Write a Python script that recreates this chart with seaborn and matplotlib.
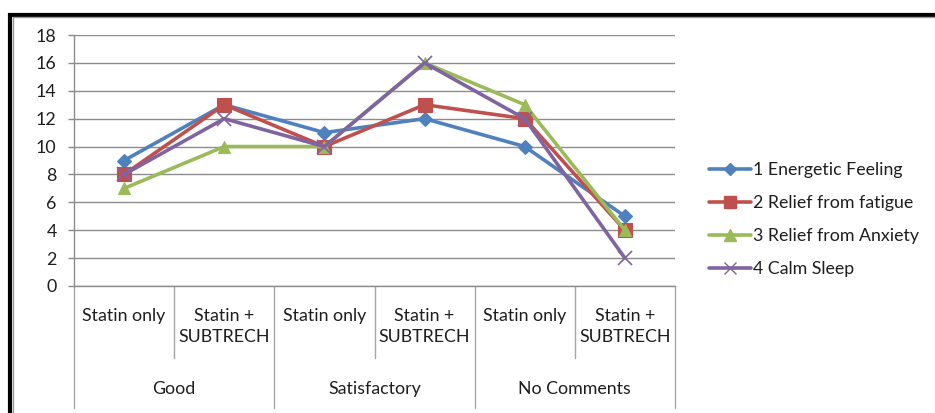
import matplotlib
matplotlib.use("Agg")
import matplotlib.pyplot as plt
from matplotlib.patches import Rectangle
from matplotlib.lines import Line2D
import matplotlib.transforms as mtransforms
import seaborn as sns
import pandas as pd

# --- data -------------------------------------------------------------
groups = ["Good", "Satisfactory", "No Comments"]
treatments = ["Statin only", "Statin +\nSUBTRECH"]
series_names = ["1 Energetic Feeling", "2 Relief from fatigue",
                "3 Relief from Anxiety", "4 Calm Sleep"]
energetic = [9, 13, 11, 12, 10, 5]
fatigue = [8, 13, 10, 13, 12, 4]
anxiety = [7, 10, 10, 16, 13, 4]
calm_sleep = [8, 12, 10, 16, 12, 2]
y_ticks = [0, 2, 4, 6, 8, 10, 12, 14, 16, 18]

colors = ["#4F81BD", "#C0504D", "#9BBB59", "#8064A2"]
markers = ["D", "s", "^", "x"]
msizes = [7, 10, 9, 10]

sns.set_theme(style="white")
plt.rcParams["font.family"] = ["Lato", "DejaVu Sans"]

W, H = 935, 413
fig = plt.figure(figsize=(W / 100, H / 100), dpi=100)

def fx(px):
    return px / W

def fy(py):
    return 1 - py / H

ax = fig.add_axes([fx(74), fy(286), fx(675) - fx(74), fy(35) - fy(286)])

n_cat = len(groups) * len(treatments)
xpos = [i + 0.5 for i in range(n_cat)]
rows = []
for name, vals in zip(series_names, [energetic, fatigue, anxiety, calm_sleep]):
    for x, v in zip(xpos, vals):
        rows.append({"x": x, "value": v, "series": name})
df = pd.DataFrame(rows)

for name, c, m, ms in zip(series_names, colors, markers, msizes):
    sub = df[df["series"] == name]
    sns.lineplot(data=sub, x="x", y="value", color=c, marker=m,
                 markersize=ms, linewidth=2.6, ax=ax, legend=False,
                 markeredgecolor=c, markeredgewidth=1.2 if m == "x" else 0.8,
                 zorder=3, clip_on=False)

txt_color = "#1E1E1E"
fs = 12.8

ax.set_xlim(0, n_cat)
ax.set_ylim(0, 18)
ax.set_yticks(y_ticks)
ax.set_yticklabels([str(t) for t in y_ticks], fontsize=fs, color=txt_color)
ax.set_xticks([])
ax.set_xlabel("")
ax.set_ylabel("")
ax.yaxis.grid(True, color="#8C8C8C", linewidth=1.0)
ax.set_axisbelow(True)
ax.tick_params(axis="y", length=4.5, width=1, color="#8C8C8C", pad=8, left=True)
for s in ["top", "right"]:
    ax.spines[s].set_visible(False)
for s in ["left", "bottom"]:
    ax.spines[s].set_color("#8C8C8C")
    ax.spines[s].set_linewidth(1.0)

# multi-level category axis beneath the plot
trans = mtransforms.blended_transform_factory(ax.transData, ax.transAxes)
ah = 286 - 35
inner_bottom = -(358 - 286) / ah
outer_bottom = -(408 - 286) / ah
for i in range(n_cat + 1):
    bottom = outer_bottom if i % 2 == 0 else inner_bottom
    ax.add_line(Line2D([i, i], [0, bottom], transform=trans, color="#A6A6A6",
                       linewidth=1.0, clip_on=False))
for i in range(n_cat):
    ax.text(i + 0.5, -(308 - 286) / ah, treatments[i % 2], transform=trans,
            ha="center", va="top", fontsize=fs, color=txt_color,
            linespacing=1.42)
for g, name in enumerate(groups):
    ax.text(2 * g + 1, -(389 - 286) / ah, name, transform=trans,
            ha="center", va="center", fontsize=fs, color=txt_color)

# legend
handles = [Line2D([0], [0], color=c, marker=m, markersize=ms * 0.9,
                  linewidth=2.6, markeredgecolor=c)
           for c, m, ms in zip(colors, markers, msizes)]
fig.legend(handles, series_names, loc="upper left",
           bbox_to_anchor=(fx(702), fy(155)), frameon=False, fontsize=fs,
           handlelength=2.35, handletextpad=0.1, labelspacing=0.95,
           borderaxespad=0, labelcolor=txt_color)

# chart frame
fig.add_artist(Rectangle((fx(10), fy(H + 20)), 1.0, fy(15) - fy(H + 20),
                         transform=fig.transFigure, fill=False,
                         edgecolor="black", linewidth=3.0))
fig.add_artist(Line2D([fx(12.5), fx(12.5)], [fy(17), 0], transform=fig.transFigure,
                      color="#9A9A9A", linewidth=1.0))
fig.add_artist(Line2D([fx(12.5), 1], [fy(17), fy(17)], transform=fig.transFigure,
                      color="#9A9A9A", linewidth=1.0))

fig.savefig("out.png", dpi=100, facecolor="white")
